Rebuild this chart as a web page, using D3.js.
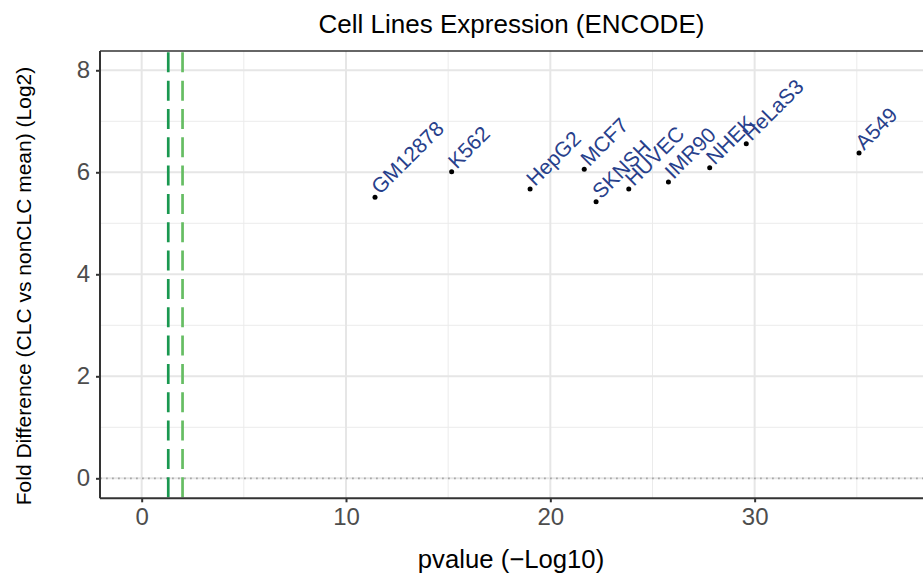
<!DOCTYPE html>
<html><head><meta charset="utf-8">
<script src="https://cdn.jsdelivr.net/npm/d3@7"></script>
<style>
html,body{margin:0;padding:0;background:#fff;}
svg{display:block;font-family:"Liberation Sans",Arial,Helvetica,sans-serif;}
</style></head>
<body>
<svg id="chart" width="923" height="577"></svg>
<script>
const cellLines = ["GM12878","K562","HepG2","MCF7","SKNSH","HUVEC","IMR90","NHEK","HeLaS3","A549"];
const pvalues   = [11.42, 15.17, 19.01, 21.66, 22.24, 23.84, 25.78, 27.80, 29.59, 35.11];
const foldDiff  = [5.51, 6.01, 5.67, 6.06, 5.42, 5.67, 5.81, 6.09, 6.56, 6.38];
const xTicks = [0, 10, 20, 30];
const xMinor = [5, 15, 25, 35];
const yTicks = [0, 2, 4, 6, 8];
const yMinor = [1, 3, 5, 7];
const thresholds = [1.301, 2];            // -log10(0.05), -log10(0.01)
const thresholdColors = ["#1a9850", "#66bd63"];

const svg = d3.select("#chart");
const L = 100, R = 923, T = 51, B = 498.3;
const x = d3.scaleLinear().domain([-2.04, 38.24]).range([L, R]);
const y = d3.scaleLinear().domain([-0.392, 8.378]).range([B, T]);

const grid = svg.append("g");
grid.selectAll(".xm").data(xMinor).join("line")
  .attr("x1", d => x(d)).attr("x2", d => x(d)).attr("y1", T).attr("y2", B)
  .attr("stroke", "#ebebeb").attr("stroke-width", 1);
grid.selectAll(".ym").data(yMinor).join("line")
  .attr("y1", d => y(d)).attr("y2", d => y(d)).attr("x1", L).attr("x2", R)
  .attr("stroke", "#ebebeb").attr("stroke-width", 1);
grid.selectAll(".xM").data(xTicks).join("line")
  .attr("x1", d => x(d)).attr("x2", d => x(d)).attr("y1", T).attr("y2", B)
  .attr("stroke", "#e6e6e6").attr("stroke-width", 2);
grid.selectAll(".yM").data(yTicks).join("line")
  .attr("y1", d => y(d)).attr("y2", d => y(d)).attr("x1", L).attr("x2", R)
  .attr("stroke", "#e6e6e6").attr("stroke-width", 2);

// dotted zero line
svg.append("line").attr("x1", L).attr("x2", R).attr("y1", y(0)).attr("y2", y(0))
  .attr("stroke", "#a8a8a8").attr("stroke-width", 1.8).attr("stroke-dasharray", "1.8,4.2");

// threshold lines
svg.selectAll(".thr").data(thresholds).join("line")
  .attr("x1", d => x(d)).attr("x2", d => x(d)).attr("y1", T).attr("y2", B)
  .attr("stroke", (d, i) => thresholdColors[i]).attr("stroke-width", 2.7)
  .attr("stroke-dasharray", "20,8.33").attr("stroke-dashoffset", 27.03);

// points
svg.selectAll(".pt").data(cellLines).join("circle")
  .attr("cx", (d, i) => x(pvalues[i])).attr("cy", (d, i) => y(foldDiff[i]))
  .attr("r", 2.5).attr("fill", "#000");

// labels
svg.selectAll(".lab").data(cellLines).join("text")
  .attr("transform", (d, i) => `translate(${x(pvalues[i]) + 5},${y(foldDiff[i]) - 2}) rotate(-45)`)
  .attr("font-size", 21).attr("fill", "#27408B").text(d => d);

// axes lines
svg.append("line").attr("x1", L).attr("x2", R).attr("y1", T).attr("y2", T)
  .attr("stroke", "#333").attr("stroke-width", 1.4);
const xAxis = svg.append("g").attr("transform", `translate(0,${B})`)
  .call(d3.axisBottom(x).tickValues(xTicks).tickSize(4).tickPadding(6).tickFormat(d3.format("d")));
const yAxis = svg.append("g").attr("transform", `translate(${L},0)`)
  .call(d3.axisLeft(y).tickValues(yTicks).tickSize(4).tickPadding(6).tickFormat(d3.format("d")));
[xAxis, yAxis].forEach(g => {
  g.select(".domain").attr("stroke", "#333").attr("stroke-width", 2);
  g.selectAll(".tick line").attr("stroke", "#333").attr("stroke-width", 2);
  g.selectAll(".tick text").attr("fill", "#4d4d4d").attr("font-size", 24)
    .attr("font-family", "Liberation Sans, Arial, sans-serif");
});
xAxis.select(".domain").attr("d", `M${L},0H${R}`);
yAxis.select(".domain").attr("d", `M0,${T}V${B}`);

// titles
svg.append("text").attr("x", 511.5).attr("y", 33).attr("text-anchor", "middle")
  .attr("font-size", 26).attr("fill", "#000").text("Cell Lines Expression (ENCODE)");
svg.append("text").attr("x", 511).attr("y", 568).attr("text-anchor", "middle")
  .attr("font-size", 25.7).attr("fill", "#000").text("pvalue (\u2212Log10)");
svg.append("text").attr("transform", "translate(31,286) rotate(-90)").attr("text-anchor", "middle")
  .attr("font-size", 21).attr("fill", "#000").text("Fold Difference (CLC vs nonCLC mean) (Log2)");
</script>
</body></html>
